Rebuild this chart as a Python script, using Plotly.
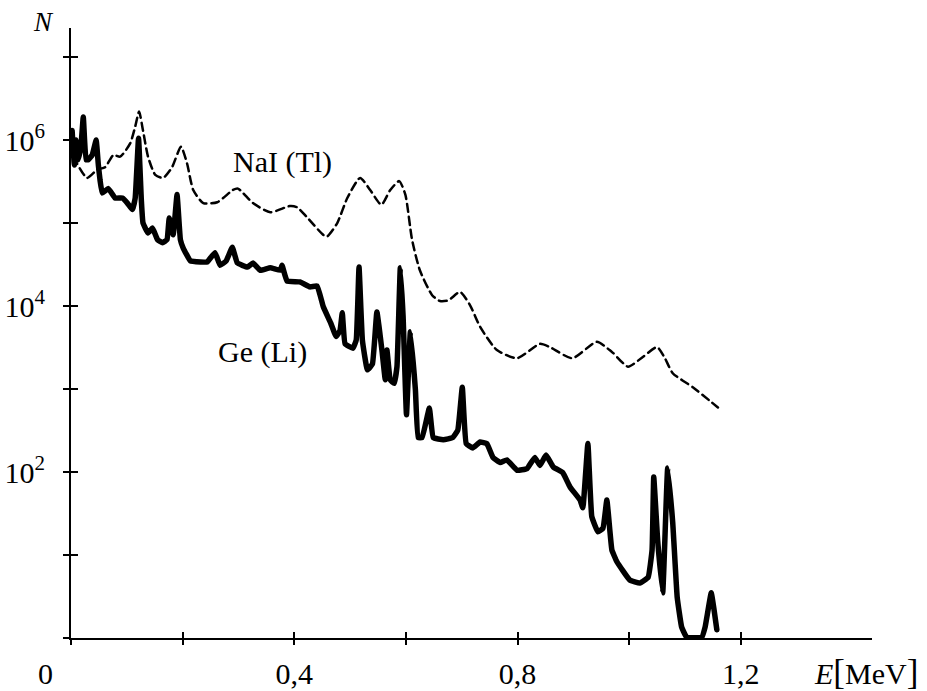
import plotly.graph_objects as go

# ---- data ----
nai_E = [0.004, 0.029, 0.047, 0.061, 0.076, 0.088, 0.106, 0.115, 0.122, 0.129, 0.138, 0.151,
         0.165, 0.181, 0.197, 0.208, 0.219, 0.237, 0.262, 0.290, 0.299, 0.326, 0.357, 0.392,
         0.405, 0.423, 0.452, 0.459, 0.477, 0.495, 0.518, 0.536, 0.556, 0.572, 0.588, 0.599,
         0.611, 0.625, 0.647, 0.661, 0.676, 0.697, 0.715, 0.733, 0.763, 0.799, 0.840, 0.858,
         0.898, 0.942, 0.969, 0.998, 1.025, 1.050, 1.064, 1.078, 1.114, 1.159]
nai_N = [6.3e5, 3.5e5, 4.4e5, 4.7e5, 6.6e5, 6.3e5, 9.1e5, 1.45e6, 2.2e6, 1.3e6, 6.3e5, 3.8e5,
         3.5e5, 4.7e5, 8.3e5, 5.2e5, 2.5e5, 1.74e5, 1.78e5, 2.5e5, 2.6e5, 1.74e5, 1.35e5, 1.6e5,
         1.55e5, 1.17e5, 7.2e4, 6.9e4, 1.0e5, 2.0e5, 3.5e5, 2.5e5, 1.66e5, 2.5e5, 3.2e5, 2.2e5,
         6.3e4, 2.7e4, 1.35e4, 1.15e4, 1.17e4, 1.48e4, 1.02e4, 5.6e3, 2.95e3, 2.35e3, 3.5e3, 3.2e3,
         2.35e3, 3.7e3, 2.8e3, 1.86e3, 2.45e3, 3.2e3, 2.35e3, 1.55e3, 1.05e3, 6.0e2]

ge_E = [0.002, 0.006, 0.009, 0.013, 0.018, 0.022, 0.027, 0.031, 0.038, 0.045, 0.049, 0.052,
        0.056, 0.067, 0.079, 0.092, 0.101, 0.110, 0.115, 0.121, 0.126, 0.129, 0.138, 0.146,
        0.155, 0.164, 0.172, 0.176, 0.183, 0.190, 0.196, 0.201, 0.214, 0.232, 0.244, 0.258,
        0.267, 0.278, 0.289, 0.298, 0.316, 0.326, 0.339, 0.357, 0.375, 0.378, 0.387, 0.410,
        0.428, 0.441, 0.452, 0.465, 0.475, 0.482, 0.486, 0.491, 0.505, 0.511, 0.516, 0.522,
        0.531, 0.540, 0.548, 0.557, 0.563, 0.566, 0.572, 0.579, 0.584, 0.590, 0.595, 0.601,
        0.608, 0.617, 0.622, 0.629, 0.642, 0.649, 0.667, 0.684, 0.693, 0.701, 0.708, 0.720,
        0.733, 0.745, 0.756, 0.769, 0.781, 0.799, 0.817, 0.831, 0.840, 0.851, 0.864, 0.881,
        0.894, 0.912, 0.917, 0.926, 0.933, 0.944, 0.953, 0.960, 0.969, 0.978, 1.001, 1.019,
        1.034, 1.041, 1.044, 1.051, 1.060, 1.069, 1.078, 1.086, 1.094, 1.103, 1.130, 1.136,
        1.147, 1.152, 1.157]
ge_N = [1.3e6, 5.0e5, 1.0e6, 5.8e5, 8.7e5, 1.9e6, 5.8e5, 5.8e5, 6.6e5, 1.0e6, 5.0e5, 3.3e5,
        2.3e5, 2.6e5, 2.0e5, 2.0e5, 1.74e5, 1.45e5, 2.0e5, 1.05e6, 1.9e5, 1.0e5, 7.6e4, 8.7e4,
        6.3e4, 5.8e4, 6.3e4, 1.15e5, 7.2e4, 2.2e5, 6.3e4, 5.0e4, 3.5e4, 3.4e4, 3.4e4, 4.4e4,
        3.1e4, 3.5e4, 5.1e4, 3.3e4, 2.95e4, 3.3e4, 2.7e4, 2.9e4, 2.7e4, 3.1e4, 2.0e4, 1.95e4,
        1.7e4, 1.74e4, 9.8e3, 6.3e3, 4.3e3, 5.1e3, 8.3e3, 3.5e3, 3.1e3, 3.9e3, 2.95e4, 3.9e3,
        1.7e3, 2.0e3, 8.5e3, 2.95e3, 1.29e3, 2.95e3, 1.29e3, 1.17e3, 1.86e3, 2.9e4, 7.4e3, 4.9e2,
        4.9e3, 9.8e2, 2.6e2, 2.6e2, 5.9e2, 2.6e2, 2.45e2, 2.6e2, 3.2e2, 1.05e3, 2.2e2, 1.95e2,
        2.3e2, 2.2e2, 1.5e2, 1.3e2, 1.4e2, 1.05e2, 1.1e2, 1.5e2, 1.2e2, 1.6e2, 1.15e2, 98,
        66, 46, 37, 2.2e2, 29, 19, 21, 46, 11.5, 8.3, 5.0, 4.6,
        5.4, 11.5, 87, 15, 3.5, 112, 24.5, 3.1, 1.35, 1.02, 1.02, 1.35,
        3.5, 2.2, 1.26]

x_ticks = [0, 0.2, 0.4, 0.6, 0.8, 1.0, 1.2]          # all tick marks
x_label_vals = [0.4, 0.8, 1.2]                        # labelled ticks
x_label_text = ["0,4", "0,8", "1,2"]
y_ticks = [1, 10, 100, 1e3, 1e4, 1e5, 1e6, 1e7]
y_label_vals = [1e2, 1e4, 1e6]
y_label_text = ["10<sup>2</sup>", "10<sup>4</sup>", "10<sup>6</sup>"]

SERIF = "Liberation Serif"
X_RANGE = [0, 1.435]
Y_RANGE = [0, 7.35]
FS = 30

fig = go.Figure()
fig.add_trace(go.Scatter(x=nai_E, y=nai_N, mode="lines", name="NaI (Tl)",
                         line=dict(color="black", width=2.5, dash="8px,5px",
                                   shape="spline", smoothing=0.6)))
fig.add_trace(go.Scatter(x=ge_E, y=ge_N, mode="lines", name="Ge (Li)",
                         line=dict(color="black", width=5.5, shape="spline", smoothing=0.3)))

tick_common = dict(tickwidth=1.5, tickcolor="black", showgrid=False, zeroline=False,
                   automargin=False)

fig.update_layout(
    width=927, height=691,
    margin=dict(l=71, r=55, t=28, b=53),
    paper_bgcolor="white", plot_bgcolor="white",
    showlegend=False,
    font=dict(family=SERIF, size=FS, color="black"),
    xaxis=dict(range=X_RANGE, showline=True, linecolor="black", linewidth=1.5,
               ticks="", tickvals=x_label_vals, ticktext=x_label_text,
               ticklabelstandoff=8, showgrid=False, zeroline=False, automargin=False,
               tickfont=dict(family=SERIF, size=FS)),
    yaxis=dict(type="log", range=Y_RANGE, showline=True, linecolor="black", linewidth=2,
               ticks="", tickvals=y_label_vals, ticktext=y_label_text,
               ticklabelstandoff=18, showgrid=False, zeroline=False, automargin=False,
               tickfont=dict(family=SERIF, size=FS)),
    xaxis2=dict(range=X_RANGE, overlaying="x", anchor="y", side="bottom",
                ticks="outside", ticklen=6, tickvals=x_ticks, showticklabels=False,
                showline=False, **tick_common),
    xaxis3=dict(range=X_RANGE, overlaying="x", anchor="y", side="bottom",
                ticks="inside", ticklen=6, tickvals=x_ticks, showticklabels=False,
                showline=False, **tick_common),
    yaxis2=dict(type="log", range=Y_RANGE, overlaying="y", anchor="x", side="left",
                ticks="outside", ticklen=7, tickvals=y_ticks, showticklabels=False,
                showline=False, **tick_common),
    yaxis3=dict(type="log", range=Y_RANGE, overlaying="y", anchor="x", side="left",
                ticks="inside", ticklen=7, tickvals=y_ticks, showticklabels=False,
                showline=False, **tick_common),
)
fig.add_trace(go.Scatter(x=[None], y=[None], xaxis="x2", yaxis="y2", showlegend=False,
                         hoverinfo="skip"))
fig.add_trace(go.Scatter(x=[None], y=[None], xaxis="x3", yaxis="y3", showlegend=False,
                         hoverinfo="skip"))

fig.add_annotation(x=0.378, y=5.73, xref="x", yref="y", text="NaI (Tl)", showarrow=False,
                   xanchor="center", yanchor="middle", font=dict(family=SERIF, size=FS))
fig.add_annotation(x=0.343, y=3.45, xref="x", yref="y", text="Ge (Li)", showarrow=False,
                   xanchor="center", yanchor="middle", font=dict(family=SERIF, size=FS))
fig.add_annotation(x=-0.034, y=1.01, xref="paper", yref="paper", text="<i>N</i>",
                   xanchor="center", yanchor="middle",
                   showarrow=False, font=dict(family=SERIF, size=27))
fig.add_annotation(x=-0.032, y=-0.058, xref="paper", yref="paper", text="0",
                   xanchor="center", yanchor="middle",
                   showarrow=False, font=dict(family=SERIF, size=FS))
fig.add_annotation(x=0.9925, y=-0.056, xref="paper", yref="paper",
                   text="<i>E</i><span style='font-size:35px'>[</span>MeV<span style='font-size:35px'>]</span>",
                   xanchor="center", yanchor="middle",
                   showarrow=False, font=dict(family=SERIF, size=FS))

post = ("document.body.style.margin='0';"
        "document.querySelectorAll('.scatterlayer path.js-line').forEach(function(p){"
        "p.style.strokeLinejoin='round';p.style.strokeLinecap='round';});")
fig.write_html("out.html", post_script=post, config={"displayModeBar": False})
